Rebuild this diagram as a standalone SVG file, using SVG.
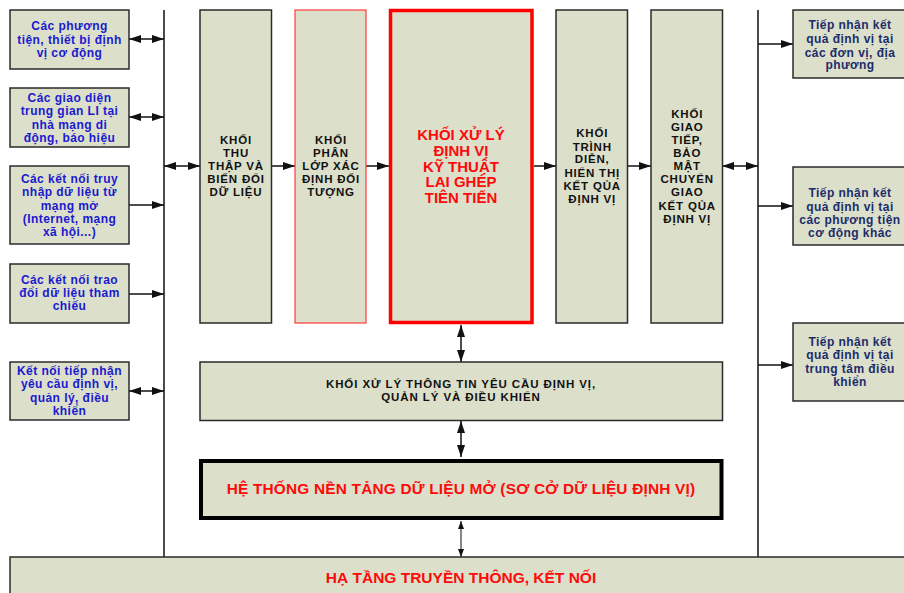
<svg xmlns="http://www.w3.org/2000/svg" width="904" height="593" viewBox="0 0 904 593">
<defs>
<style>
.box{fill:#dcdfca;stroke:#2b2b2b;stroke-width:1.5}
.t{font-family:"Liberation Sans",Arial,sans-serif;font-weight:bold;text-anchor:middle}
.blue{fill:#1a1ad0;font-size:12px;letter-spacing:0.45px}
.navy{fill:#1b2c6b;font-size:12px;letter-spacing:0.45px}
.blk{fill:#111;font-size:11.5px;letter-spacing:0.8px}
.red{fill:#ff0a0a;font-size:15px}
.ln{stroke:#111;stroke-width:1.5;fill:none}
.ar{stroke:#111;stroke-width:1.5;fill:none;marker-end:url(#ah)}
.dar{stroke:#111;stroke-width:1.5;fill:none;marker-end:url(#ah);marker-start:url(#ah)}
.dsm{stroke:#111;stroke-width:1;fill:none;marker-end:url(#as);marker-start:url(#as)}
</style>
<marker id="ah" markerUnits="userSpaceOnUse" markerWidth="12" markerHeight="8" refX="12" refY="4" orient="auto-start-reverse"><path d="M0,0 L12,4 L0,8 z" fill="#111"/></marker>
<marker id="as" markerUnits="userSpaceOnUse" markerWidth="8" markerHeight="6" refX="8" refY="3" orient="auto-start-reverse"><path d="M0,0 L8,3 L0,6 z" fill="#111"/></marker>
</defs>
<rect width="904" height="593" fill="#fff"/>

<g id="connectors">
<line class="ln" x1="164" y1="10" x2="164" y2="557"/>
<line class="ln" x1="758" y1="10" x2="758" y2="557"/>
<line class="dar" x1="129" y1="39" x2="164" y2="39"/>
<line class="dar" x1="129" y1="117" x2="164" y2="117"/>
<line class="ar" x1="129" y1="205" x2="164" y2="205"/>
<line class="ar" x1="129" y1="294" x2="164" y2="294"/>
<line class="dar" x1="129" y1="391" x2="164" y2="391"/>
<line class="dar" x1="164" y1="166" x2="200" y2="166"/>
<line class="ar" x1="271" y1="166" x2="295" y2="166"/>
<line class="ar" x1="366" y1="166" x2="389" y2="166"/>
<line class="ar" x1="534" y1="166" x2="556" y2="166"/>
<line class="ar" x1="627" y1="166" x2="651" y2="166"/>
<line class="dar" x1="722" y1="166" x2="758" y2="166"/>
<line class="ar" x1="758" y1="44" x2="793" y2="44"/>
<line class="ar" x1="758" y1="206" x2="793" y2="206"/>
<line class="ar" x1="758" y1="365" x2="793" y2="365"/>
<line class="dar" x1="461" y1="325" x2="461" y2="362"/>
<line class="dar" x1="461" y1="421" x2="461" y2="457"/>
<line class="dsm" x1="461" y1="521" x2="461" y2="557"/>
</g>

<g id="left1"><rect class="box" x="10" y="10" width="119" height="59"/>
<text class="t blue"><tspan x="69.5" y="30">Các phương</tspan><tspan x="69.5" y="43.5">tiện, thiết bị định</tspan><tspan x="69.5" y="57">vị cơ động</tspan></text></g>
<g id="left2"><rect class="box" x="10" y="88" width="119" height="59"/>
<text class="t blue"><tspan x="69.5" y="102">Các giao diện</tspan><tspan x="69.5" y="115.3">trung gian LI tại</tspan><tspan x="69.5" y="128.6">nhà mạng di</tspan><tspan x="69.5" y="141.6">động, báo hiệu</tspan></text></g>
<g id="left3"><rect class="box" x="10" y="166" width="119" height="78"/>
<text class="t blue"><tspan x="69.5" y="183">Các kết nối truy</tspan><tspan x="69.5" y="196.3">nhập dữ liệu từ</tspan><tspan x="69.5" y="209.6">mạng mở</tspan><tspan x="69.5" y="223">(Internet, mạng</tspan><tspan x="69.5" y="236">xã hội...)</tspan></text></g>
<g id="left4"><rect class="box" x="10" y="264" width="119" height="59"/>
<text class="t blue"><tspan x="69.5" y="283.5">Các kết nối trao</tspan><tspan x="69.5" y="297">đổi dữ liệu tham</tspan><tspan x="69.5" y="310">chiếu</tspan></text></g>
<g id="left5"><rect class="box" x="10" y="362" width="119" height="58"/>
<text class="t blue"><tspan x="69.5" y="375">Kết nối tiếp nhận</tspan><tspan x="69.5" y="388.3">yêu cầu định vị,</tspan><tspan x="69.5" y="401.6">quản lý, điều</tspan><tspan x="69.5" y="414.6">khiển</tspan></text></g>

<g id="colA"><rect class="box" x="200" y="10" width="71.5" height="313"/>
<text class="t blk"><tspan x="236" y="144">KHỐI</tspan><tspan x="236" y="157.3">THU</tspan><tspan x="236" y="170.3">THẬP VÀ</tspan><tspan x="236" y="183.3">BIẾN ĐỔI</tspan><tspan x="236" y="196.3">DỮ LIỆU</tspan></text></g>
<g id="colB"><rect x="295" y="10" width="71" height="313" fill="#dcdfca" stroke="#ff3b3b" stroke-width="1.2"/>
<text class="t blk"><tspan x="331" y="144">KHỐI</tspan><tspan x="331" y="157.3">PHÂN</tspan><tspan x="331" y="170.3">LỚP XÁC</tspan><tspan x="331" y="183.3">ĐỊNH ĐỐI</tspan><tspan x="331" y="196.3">TƯỢNG</tspan></text></g>
<g id="colC"><rect x="390.5" y="10.5" width="141.5" height="312" fill="#dcdfca" stroke="#ff0000" stroke-width="3.5"/>
<text class="t red"><tspan x="461" y="140">KHỐI XỬ LÝ</tspan><tspan x="461" y="156">ĐỊNH VỊ</tspan><tspan x="461" y="171.5">KỸ THUẬT</tspan><tspan x="461" y="187">LAI GHÉP</tspan><tspan x="461" y="202.5">TIÊN TIẾN</tspan></text></g>
<g id="colD"><rect class="box" x="556" y="10" width="71.5" height="313"/>
<text class="t blk"><tspan x="592.2" y="137.3">KHỐI</tspan><tspan x="592.2" y="150.7">TRÌNH</tspan><tspan x="592.2" y="163.3">DIỄN,</tspan><tspan x="592.2" y="176.7">HIỂN THỊ</tspan><tspan x="592.2" y="189.7">KẾT QỦA</tspan><tspan x="592.2" y="203">ĐỊNH VỊ</tspan></text></g>
<g id="colE"><rect class="box" x="651" y="10" width="71.5" height="313"/>
<text class="t blk"><tspan x="687.2" y="118.3">KHỐI</tspan><tspan x="687.2" y="131.3">GIAO</tspan><tspan x="687.2" y="144">TIẾP,</tspan><tspan x="687.2" y="157.3">BẢO</tspan><tspan x="687.2" y="170">MẬT</tspan><tspan x="687.2" y="183.3">CHUYỂN</tspan><tspan x="687.2" y="196.3">GIAO</tspan><tspan x="687.2" y="209.7">KẾT QỦA</tspan><tspan x="687.2" y="222.7">ĐỊNH VỊ</tspan></text></g>

<g id="right1"><rect class="box" x="793" y="10" width="119" height="68"/>
<text class="t navy"><tspan x="850" y="29">Tiếp nhận kết</tspan><tspan x="850" y="43.3">quả định vị tại</tspan><tspan x="850" y="56.7">các đơn vị, địa</tspan><tspan x="850" y="69">phương</tspan></text></g>
<g id="right2"><rect class="box" x="793" y="167" width="119" height="78"/>
<text class="t navy"><tspan x="850" y="197.3">Tiếp nhận kết</tspan><tspan x="850" y="210.7">quả định vị tại</tspan><tspan x="850" y="224">các phương tiện</tspan><tspan x="850" y="237.3">cơ động khác</tspan></text></g>
<g id="right3"><rect class="box" x="793" y="323" width="119" height="78"/>
<text class="t navy"><tspan x="850" y="345.5">Tiếp nhận kết</tspan><tspan x="850" y="359">quả định vị tại</tspan><tspan x="850" y="372.5">trung tâm điều</tspan><tspan x="850" y="385.5">khiển</tspan></text></g>

<g id="info"><rect class="box" x="200" y="362" width="522.5" height="58.5"/>
<text class="t blk" style="letter-spacing:0.9px"><tspan x="461" y="388">KHỐI XỬ LÝ THÔNG TIN YÊU CẦU ĐỊNH VỊ,</tspan><tspan x="461" y="401.3">QUẢN LÝ VÀ ĐIỀU KHIỂN</tspan></text></g>
<g id="platform"><rect x="201" y="461" width="520.5" height="57" fill="#dcdfca" stroke="#000" stroke-width="4"/>
<text class="t red" x="461" y="494" style="font-size:15.4px;letter-spacing:0.2px">HỆ THỐNG NỀN TẢNG DỮ LIỆU MỞ (SƠ CỞ DỮ LIỆU ĐỊNH VỊ)</text></g>
<g id="infra"><rect class="box" x="10" y="557" width="910" height="50"/>
<text class="t red" x="461" y="582.5" style="font-size:15.5px">HẠ TẦNG TRUYỀN THÔNG, KẾT NỐI</text></g>
</svg>
